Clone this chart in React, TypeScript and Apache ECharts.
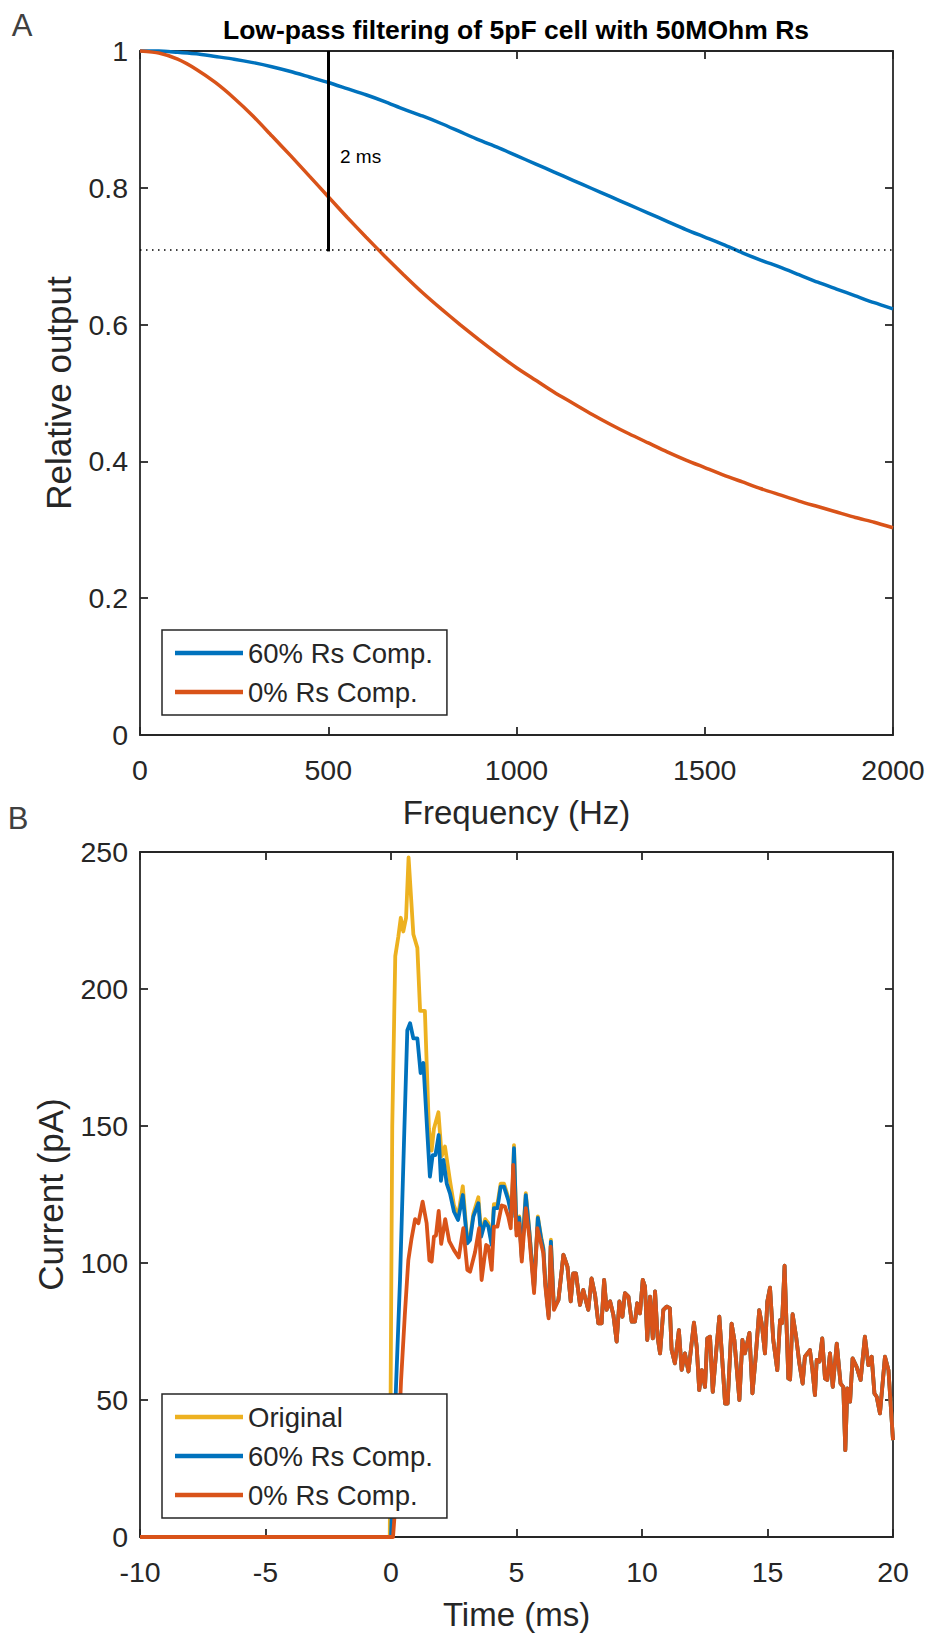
import React, { useEffect, useRef } from "react";
import * as echarts from "echarts";

// ---------- Panel A data ----------
const freqHz = [
  0, 50, 100, 150, 200, 250, 300, 350, 400, 450, 500, 550, 600, 650, 700, 750, 800, 850, 900, 950, 1000,
  1050, 1100, 1150, 1200, 1250, 1300, 1350, 1400, 1450, 1500, 1550, 1600, 1650, 1700, 1750, 1800, 1850, 1900, 1950, 2000,
];
const relOutput60 = [
  1.0, 1.0, 0.998, 0.996, 0.992, 0.988, 0.983, 0.977, 0.97, 0.962, 0.954, 0.945, 0.936, 0.926, 0.915, 0.905, 0.894,
  0.882, 0.87, 0.859, 0.847, 0.835, 0.823, 0.811, 0.799, 0.787, 0.775, 0.763, 0.751, 0.739, 0.728, 0.717, 0.705,
  0.694, 0.684, 0.673, 0.662, 0.652, 0.642, 0.632, 0.623,
];
const relOutput0 = [
  1.0, 0.997, 0.988, 0.973, 0.954, 0.931, 0.905, 0.876, 0.847, 0.817, 0.787, 0.757, 0.728, 0.7, 0.673, 0.647, 0.623,
  0.6, 0.578, 0.557, 0.537, 0.519, 0.501, 0.485, 0.469, 0.454, 0.44, 0.427, 0.414, 0.402, 0.391, 0.38, 0.37, 0.36,
  0.351, 0.342, 0.334, 0.326, 0.318, 0.311, 0.303,
];
const cutoffLevel = 0.707;
const markFreq = 500;
const freqTicks = { min: 0, max: 2000, interval: 500 };
const relTicks = { min: 0, max: 1, interval: 0.2 };

// ---------- Panel B data: [time (ms), current (pA)] ----------
const originalEarly: [number, number][] = [
  [-10, 0], [-0.05, 0], [0.05, 150], [0.17, 212], [0.29, 219], [0.39, 226], [0.49, 221], [0.6, 226], [0.7, 248],
  [0.89, 220], [1.05, 215], [1.16, 192], [1.35, 192], [1.51, 149], [1.62, 141], [1.71, 149], [1.89, 155], [2.02, 139],
  [2.15, 142.5], [2.35, 130], [2.51, 121], [2.67, 117], [2.86, 128], [3.04, 108], [3.15, 109.5], [3.28, 118], [3.48, 124],
  [3.59, 110.5], [3.75, 116], [3.88, 114.5], [4.01, 107.5], [4.1, 121.5], [4.24, 121.5], [4.37, 129], [4.5, 129],
  [4.67, 124], [4.81, 118], [4.9, 143], [5.0, 112.5], [5.11, 117], [5.21, 102.5], [5.37, 125.5], [5.51, 112], [5.7, 91],
  [5.85, 117], [5.98, 109.5], [6.07, 105.5], [6.15, 93], [6.28, 81], [6.37, 108.5], [6.49, 84],
];
const comp60Early: [number, number][] = [
  [-10, 0], [0.0, 0], [0.2, 55], [0.36, 94], [0.52, 145], [0.65, 185], [0.76, 187.5], [0.89, 182], [1.05, 182],
  [1.18, 169.3], [1.29, 173], [1.45, 147], [1.55, 131.5], [1.66, 139.4], [1.77, 139.4], [1.9, 146.7], [1.99, 130],
  [2.09, 137.6], [2.22, 129], [2.35, 125.4], [2.51, 118.7], [2.67, 115.7], [2.86, 124.8], [3.04, 107.2], [3.15, 108.4],
  [3.28, 116.9], [3.48, 121.8], [3.59, 109.6], [3.75, 115], [3.88, 113.3], [4.01, 106.6], [4.1, 120], [4.24, 120],
  [4.37, 127.9], [4.5, 127.9], [4.67, 123], [4.81, 116.9], [4.9, 141.9], [5.0, 112], [5.11, 116.5], [5.21, 102],
  [5.37, 124.8], [5.51, 111.5], [5.7, 90.5], [5.85, 116.5], [5.98, 109], [6.07, 105], [6.15, 92.5], [6.28, 80.5],
  [6.37, 107.8], [6.49, 83.5],
];
const comp0Early: [number, number][] = [
  [-10, 0], [0.08, 0], [0.2, 15], [0.3, 35], [0.4, 57], [0.55, 81], [0.69, 101], [0.82, 109], [0.96, 116], [1.09, 114.5],
  [1.26, 122.4], [1.42, 114.5], [1.53, 101], [1.62, 100.5], [1.71, 109.6], [1.79, 110], [1.9, 119], [2.0, 107], [2.16, 116],
  [2.32, 108], [2.51, 104.7], [2.7, 102], [2.88, 112.7], [3.04, 97.5], [3.15, 96.8], [3.35, 104], [3.51, 112.7],
  [3.61, 93.8], [3.79, 106.6], [3.88, 106], [4.01, 97.5], [4.1, 113.3], [4.24, 113.3], [4.41, 121], [4.54, 120.6],
  [4.67, 117], [4.77, 112.7], [4.87, 135.8], [5.0, 110], [5.11, 114.5], [5.21, 100.5], [5.37, 120], [5.51, 109.6],
  [5.7, 89], [5.83, 112.7], [5.98, 107], [6.07, 103.5], [6.15, 91.4], [6.28, 79.8], [6.36, 106], [6.49, 82.9],
];
// late part, where the three traces coincide
const sharedLate: [number, number][] = [
  [6.67, 86.5], [6.87, 103], [7.03, 98.7], [7.16, 86], [7.26, 96.2], [7.37, 96.2], [7.53, 84.7], [7.66, 90.2], [7.77, 86],
  [7.86, 82.9], [7.99, 94.4], [8.13, 88.3], [8.26, 78], [8.39, 78], [8.49, 93.8], [8.59, 82.9], [8.73, 86], [8.86, 81],
  [8.99, 71.3], [9.1, 86], [9.22, 80.4], [9.32, 89], [9.46, 87.7], [9.59, 78.6], [9.72, 78.6], [9.81, 85.3], [9.92, 81.6],
  [10.03, 93.8], [10.12, 91.4], [10.21, 71.9], [10.32, 87.7], [10.43, 72.5], [10.52, 89.6], [10.62, 73.1], [10.72, 67],
  [10.85, 82.9], [10.98, 84.1], [11.11, 83.5], [11.18, 68.3], [11.31, 63.4], [11.47, 75.5], [11.58, 61], [11.71, 67],
  [11.85, 60.4], [12.07, 78.2], [12.18, 69.4], [12.28, 53.6], [12.38, 60.9], [12.51, 54.8], [12.6, 72.5], [12.71, 73.1],
  [12.82, 53], [12.95, 67], [13.08, 80.4], [13.19, 65.8], [13.31, 48.7], [13.41, 48.7], [13.57, 77.9], [13.68, 71.9],
  [13.88, 50], [14.0, 71.9], [14.1, 67], [14.28, 74.5], [14.4, 52.4], [14.53, 65.8], [14.67, 82.8], [14.77, 77.9],
  [14.9, 67], [14.99, 85.8], [15.1, 91], [15.23, 71.9], [15.39, 60.9], [15.5, 79.1], [15.58, 78], [15.68, 99],
  [15.83, 57.9], [15.9, 57.5], [16.0, 81.3], [16.14, 73.1], [16.27, 63.3], [16.4, 56], [16.49, 65.8], [16.69, 68.2],
  [16.79, 61], [16.89, 51.8], [16.96, 64.6], [17.07, 64], [17.18, 72.5], [17.29, 57.9], [17.38, 57.3], [17.49, 67],
  [17.6, 54.8], [17.76, 70.6], [17.91, 56], [18.02, 54.8], [18.1, 31.7], [18.18, 54.2], [18.29, 49.4], [18.39, 65.2],
  [18.55, 62.1], [18.71, 57.3], [18.88, 73.1], [19.02, 62.7], [19.15, 65.8], [19.26, 52.4], [19.35, 51.2], [19.48, 45.1],
  [19.68, 65.8], [19.82, 60.9], [20.0, 35.4],
];
const timeTicks = { min: -10, max: 20, interval: 5 };
const currentTicks = { min: 0, max: 250, interval: 50 };

const seriesNames = { orig: "Original", c60: "60% Rs Comp.", c0: "0% Rs Comp." };
const COLORS = { orig: "#EDB120", c60: "#0072BD", c0: "#D95319" };

const FONT = "'Liberation Sans', Arial, Helvetica, sans-serif";
const AX = "#262626";
const TICK_FONT = 28.5;

function axisBase(showLabels: boolean, margin = 12) {
  return {
    type: "value" as const,
    axisLine: { show: true, onZero: false, lineStyle: { color: AX, width: 1.8 } },
    axisTick: { show: true, inside: true, length: 8, lineStyle: { color: AX, width: 1.8 } },
    splitLine: { show: false },
    axisLabel: {
      show: showLabels,
      margin,
      color: AX,
      fontSize: TICK_FONT,
      fontFamily: FONT,
      formatter: (v: number) => String(Math.round(v * 1000) / 1000),
    },
    nameTextStyle: { color: AX, fontSize: 33, fontFamily: FONT },
  };
}

function legendStyle(top: number, data: string[]) {
  return {
    show: true,
    z: 20,
    data,
    orient: "vertical" as const,
    left: 162,
    top,
    icon: "rect",
    itemWidth: 68,
    itemHeight: 4.5,
    itemGap: 11,
    padding: [9, 14, 9, 13],
    borderColor: AX,
    borderWidth: 1.5,
    borderRadius: 0,
    backgroundColor: "#ffffff",
    selectedMode: false,
    textStyle: { color: AX, fontSize: 27.5, fontFamily: FONT },
  };
}

function buildOption() {
  const lineA = (name: string, color: string, vals: number[], extra: any = {}) => ({
    type: "line",
    name,
    xAxisIndex: 0,
    yAxisIndex: 0,
    data: freqHz.map((f, i) => [f, vals[i]]),
    symbol: "none",
    showSymbol: false,
    smooth: 0.2,
    clip: false,
    color,
    z: 3,
    lineStyle: { color, width: 3.5 },
    ...extra,
  });
  const lineB = (name: string, color: string, data: [number, number][], z: number) => ({
    type: "line",
    name,
    xAxisIndex: 2,
    yAxisIndex: 2,
    data,
    symbol: "none",
    showSymbol: false,
    clip: false,
    color,
    z,
    lineStyle: { color, width: 3.8, join: "round" },
  });
  const yName = { color: AX, fontSize: 35, fontFamily: FONT };

  return {
    animation: false,
    backgroundColor: "#ffffff",
    grid: [
      { left: 140, top: 51, width: 753, height: 684 },
      { left: 140, top: 852, width: 753, height: 685 },
    ],
    xAxis: [
      {
        ...axisBase(true, 20),
        gridIndex: 0,
        position: "bottom",
        ...freqTicks,
        name: "Frequency (Hz)",
        nameLocation: "middle",
        nameGap: 61,
      },
      { ...axisBase(false), gridIndex: 0, position: "top", ...freqTicks },
      {
        ...axisBase(true, 20),
        gridIndex: 1,
        position: "bottom",
        ...timeTicks,
        name: "Time (ms)",
        nameLocation: "middle",
        nameGap: 61,
      },
      { ...axisBase(false), gridIndex: 1, position: "top", ...timeTicks },
    ],
    yAxis: [
      {
        ...axisBase(true, 12),
        gridIndex: 0,
        position: "left",
        ...relTicks,
        name: "Relative output",
        nameLocation: "middle",
        nameRotate: 90,
        nameGap: 64,
        nameTextStyle: yName,
      },
      { ...axisBase(false), gridIndex: 0, position: "right", ...relTicks },
      {
        ...axisBase(true, 12),
        gridIndex: 1,
        position: "left",
        ...currentTicks,
        name: "Current (pA)",
        nameLocation: "middle",
        nameRotate: 90,
        nameGap: 72,
        nameTextStyle: yName,
      },
      { ...axisBase(false), gridIndex: 1, position: "right", ...currentTicks },
    ],
    legend: [
      legendStyle(630, [seriesNames.c60, seriesNames.c0]),
      legendStyle(1394, [seriesNames.orig, seriesNames.c60, seriesNames.c0]),
    ],
    series: [
      lineA(seriesNames.c60, COLORS.c60, relOutput60),
      lineA(seriesNames.c0, COLORS.c0, relOutput0, {
        markLine: {
          silent: true,
          symbol: ["none", "none"],
          label: { show: false },
          emphasis: { disabled: true },
          data: [
            { yAxis: cutoffLevel, lineStyle: { color: "#000", width: 1.5, type: [1.5, 4.5] } },
            [
              { coord: [markFreq, cutoffLevel], lineStyle: { color: "#000", width: 3, type: "solid" } },
              { coord: [markFreq, relTicks.max] },
            ],
          ],
        },
      }),
      lineB(seriesNames.orig, COLORS.orig, [...originalEarly, ...sharedLate], 3),
      lineB(seriesNames.c60, COLORS.c60, [...comp60Early, ...sharedLate], 4),
      lineB(seriesNames.c0, COLORS.c0, [...comp0Early, ...sharedLate], 5),
    ],
    graphic: [
      {
        type: "text",
        x: 516,
        y: 30,
        style: {
          text: "Low-pass filtering of 5pF cell with 50MOhm Rs",
          fill: "#000",
          font: `bold 26.5px ${FONT}`,
          textAlign: "center",
          textVerticalAlign: "middle",
        },
      },
      {
        type: "text",
        x: 340,
        y: 156,
        style: { text: "2 ms", fill: "#000", font: `19px ${FONT}`, textAlign: "left", textVerticalAlign: "middle" },
      },
      {
        type: "text",
        x: 22,
        y: 25,
        style: { text: "A", fill: "#404040", font: `31px ${FONT}`, textAlign: "center", textVerticalAlign: "middle" },
      },
      {
        type: "text",
        x: 18,
        y: 818,
        style: { text: "B", fill: "#404040", font: `31px ${FONT}`, textAlign: "center", textVerticalAlign: "middle" },
      },
    ],
  };
}

export default function App() {
  const ref = useRef<HTMLDivElement>(null);
  useEffect(() => {
    document.body.style.margin = "0";
    const chart = echarts.init(ref.current as HTMLDivElement, undefined, { renderer: "svg" });
    chart.setOption(buildOption() as any);
    return () => chart.dispose();
  }, []);
  return <div ref={ref} style={{ width: 930, height: 1634 }} />;
}
